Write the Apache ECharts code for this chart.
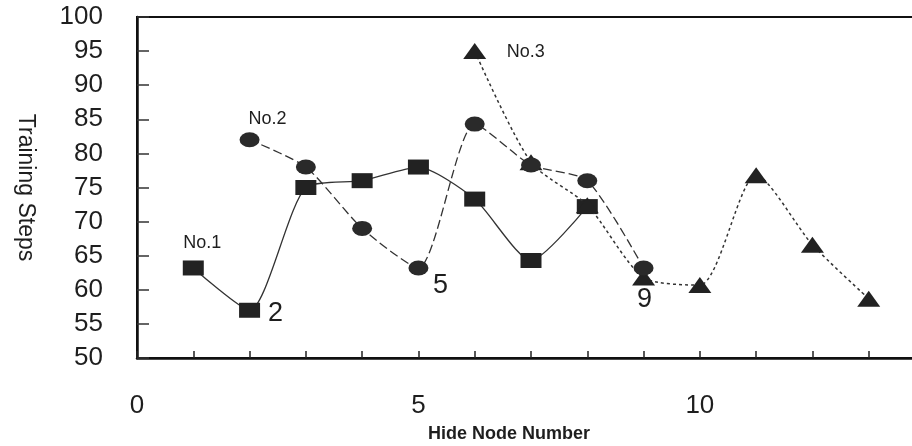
<!DOCTYPE html>
<html>
<head>
<meta charset="utf-8">
<script src="https://cdn.jsdelivr.net/npm/echarts@6/dist/echarts.min.js"></script>
<style>
  html, body { margin: 0; padding: 0; background: #ffffff; }
  #chart { width: 912px; height: 446px; }
</style>
</head>
<body>
<div id="chart"></div>
<script>
// ---- data ----
const no1X = [1, 2, 3, 4, 5, 6, 7, 8];
const no1Y = [63.2, 57.0, 75.0, 76.0, 78.0, 73.3, 64.3, 72.2];

const no2X = [2, 3, 4, 5, 6, 7, 8, 9];
const no2Y = [82.0, 78.0, 69.0, 63.2, 84.3, 78.3, 76.0, 63.2];

const no3X = [6, 7, 8, 9, 10, 11, 12, 13];
const no3Y = [95.0, 78.7, 72.4, 61.8, 60.7, 76.8, 66.6, 58.7];

const seriesNames = ['No.1', 'No.2', 'No.3'];
const xTickLabels = [0, 5, 10];
const yMin = 50, yMax = 100, yStep = 5;
const xMin = 0, xMax = 14;

// annotation texts attached to points: [seriesIndex, pointIndex, text]
const annotations = [
  [0, 0, 'No.1'],
  [0, 1, '2'],
  [1, 0, 'No.2'],
  [1, 3, '5'],
  [1, 7, '9'],
  [2, 0, 'No.3']
];

// ---- presentation ----
const FONT = '"Liberation Sans", Arial, sans-serif';
const INK = '#1e1e1e';
const annStyle = {
  'No.1': { offset: [9, -25], fontSize: 18 },
  '2':    { offset: [26, 3], fontSize: 27 },
  'No.2': { offset: [18, -21], fontSize: 18 },
  '5':    { offset: [22, 18], fontSize: 27 },
  '9':    { offset: [1, 32], fontSize: 27 },
  'No.3': { offset: [51, 1], fontSize: 18 }
};

function buildData(xs, ys, sIdx) {
  return xs.map((x, i) => {
    const item = { value: [x, ys[i]] };
    const ann = annotations.find(a => a[0] === sIdx && a[1] === i);
    if (ann) {
      const st = annStyle[ann[2]];
      item.label = {
        show: true,
        position: 'inside',
        offset: st.offset,
        formatter: ann[2],
        fontSize: st.fontSize,
        fontFamily: FONT,
        color: INK
      };
    }
    return item;
  });
}

const chart = echarts.init(document.getElementById('chart'), null, { renderer: 'canvas' });

const option = {
  animation: false,
  backgroundColor: '#ffffff',
  grid: {
    left: 137, top: 17, width: 788, height: 341,
    outerBoundsMode: 'none', containLabel: false,
    show: true, borderColor: '#111', borderWidth: 2, backgroundColor: 'transparent'
  },
  xAxis: {
    type: 'value', min: xMin, max: xMax, interval: 1,
    name: 'Hide Node Number', nameLocation: 'middle', nameGap: 67,
    nameTextStyle: { fontFamily: FONT, fontSize: 18, fontWeight: 'bold', color: INK, padding: [0, 44, 0, 0] },
    axisLine: { show: true, lineStyle: { color: '#111', width: 2.5 } },
    axisTick: { show: true, inside: true, length: 7, lineStyle: { color: '#222', width: 1.5 } },
    axisLabel: {
      margin: 35, fontFamily: FONT, fontSize: 26, color: INK,
      formatter: v => (xTickLabels.indexOf(v) >= 0 ? String(v) : '')
    },
    splitLine: { show: false }
  },
  yAxis: {
    type: 'value', min: yMin, max: yMax, interval: yStep,
    name: 'Training Steps', nameLocation: 'middle', nameGap: 100, nameRotate: -90,
    nameTextStyle: { fontFamily: FONT, fontSize: 23, color: INK },
    axisLine: { show: true, lineStyle: { color: '#111', width: 2.5 } },
    axisTick: { show: true, inside: true, length: 12, lineStyle: { color: '#333', width: 1.5 } },
    axisLabel: { margin: 34, fontFamily: FONT, fontSize: 26, color: INK },
    splitLine: { show: false }
  },
  series: [
    {
      name: seriesNames[0], type: 'line', smooth: 0.22, z: 2,
      symbol: 'rect', symbolSize: [21, 15],
      itemStyle: { color: '#222' },
      lineStyle: { color: '#333', width: 1.3, type: 'solid' },
      data: buildData(no1X, no1Y, 0)
    },
    {
      name: seriesNames[1], type: 'line', smooth: 0.22, z: 4,
      symbol: 'circle', symbolSize: [20, 15],
      itemStyle: { color: '#2a2a2a' },
      lineStyle: { color: '#333', width: 1.3, type: [9, 4] },
      data: buildData(no2X, no2Y, 1)
    },
    {
      name: seriesNames[2], type: 'line', smooth: 0.25, z: 3,
      symbol: 'triangle', symbolSize: [23, 16],
      itemStyle: { color: '#222' },
      lineStyle: { color: '#333', width: 1.5, type: [3, 3] },
      data: buildData(no3X, no3Y, 2)
    }
  ]
};

chart.setOption(option);
</script>
</body>
</html>
